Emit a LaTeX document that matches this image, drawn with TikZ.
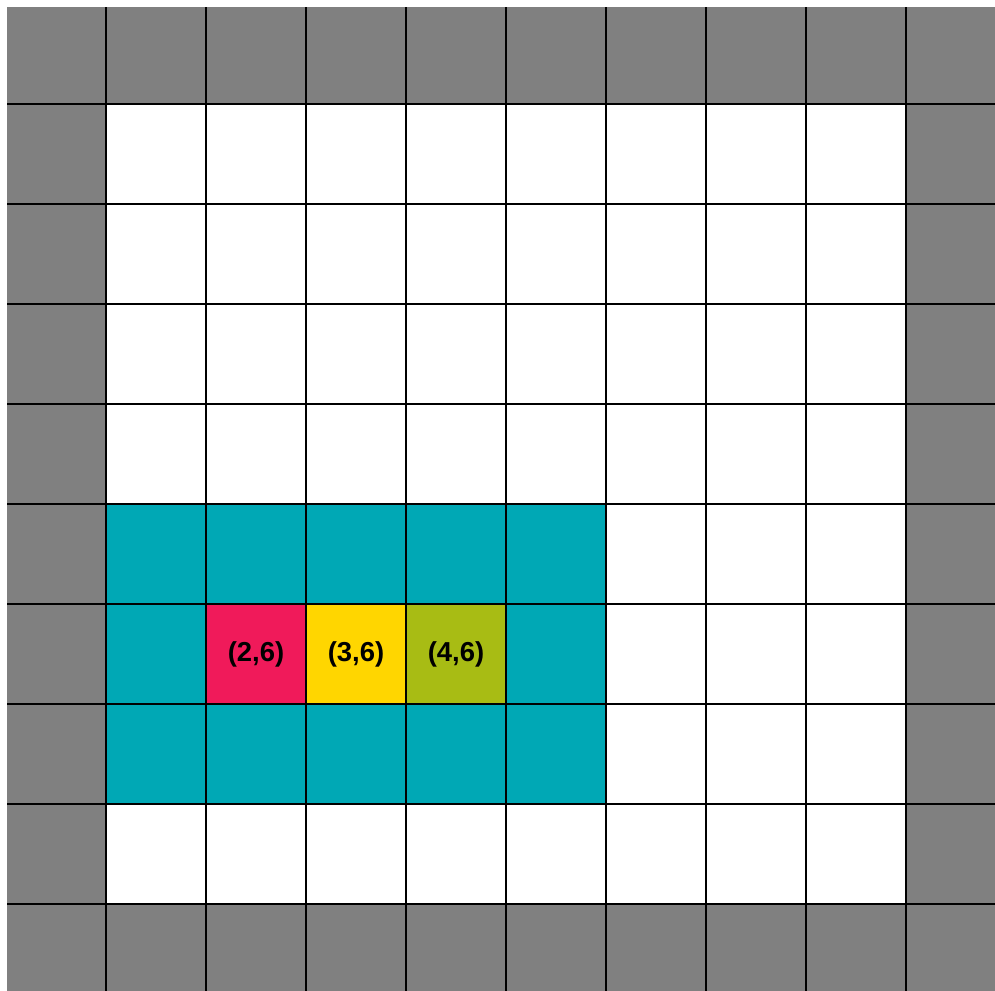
\documentclass[tikz,border=0pt]{standalone}
\usepackage{fontspec}
\setmainfont{Liberation Sans}
\usepackage{tikz}
\usetikzlibrary{positioning,calc}

\definecolor{wallgray}{RGB}{128,128,128}
\definecolor{nbteal}{RGB}{0,168,181}
\definecolor{cellred}{RGB}{240,26,90}
\definecolor{cellyellow}{RGB}{255,214,0}
\definecolor{cellolive}{RGB}{168,188,20}

\begin{document}
\begin{tikzpicture}[
  gridline/.style={line width=0.6pt,black},
  celllabel/.style={font=\fontsize{7.8}{9}\selectfont\bfseries,text=black,inner sep=0pt}
]
\useasboundingbox (0,0) rectangle (9.95,9.91);

%--------------------
% 壁と内部
%--------------------
\fill[wallgray] (0.07,0) rectangle (9.95,9.84);
\fill[white] (1.06,0.87) rectangle (9.06,8.87);

% 近傍
\fill[nbteal] (1.06,1.87) rectangle (6.06,4.87);

% セル
\coordinate (P2) at (2.06,2.87);
\coordinate (P3) at (3.06,2.87);
\coordinate (P4) at (4.06,2.87);

\fill[cellred] (P2) rectangle ++(1,1);
\fill[cellyellow] (P3) rectangle ++(1,1);
\fill[cellolive] (P4) rectangle ++(1,1);

%--------------------
% 格子線
%--------------------
\foreach \x in {1.06,2.06,...,9.06}
  \draw[gridline] (\x,0) -- (\x,9.84);
\foreach \y in {0.87,1.87,...,8.87}
  \draw[gridline] (0.07,\y) -- (9.95,\y);

% ラベル
\node[celllabel] (c26) at ($(P2)+(0.5,0.5)$) {(2,6)};
\node[celllabel] (c36) [right=1cm of c26.center, anchor=center] {(3,6)};
\node[celllabel] (c46) [right=1cm of c36.center, anchor=center] {(4,6)};

\end{tikzpicture}
\end{document}
